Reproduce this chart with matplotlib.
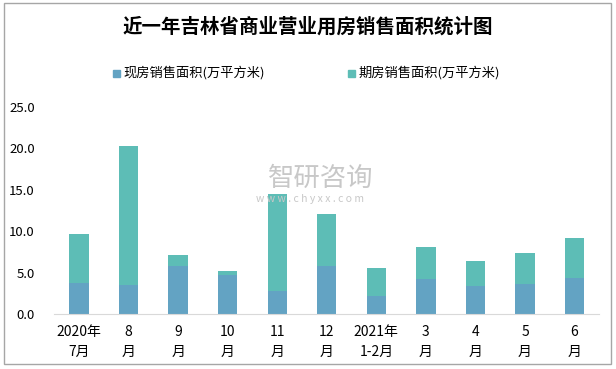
import numpy as np
import matplotlib.pyplot as plt
from matplotlib.patches import Rectangle

plt.rcParams['font.family'] = ['Noto Sans CJK SC', 'DejaVu Sans']

# Datos
meses = ['2020年\n7月', '8\n月', '9\n月', '10\n月', '11\n月', '12\n月',
         '2021年\n1-2月', '3\n月', '4\n月', '5\n月', '6\n月']
xianfang = [3.7, 3.5, 5.8, 4.7, 2.8, 5.8, 2.2, 4.2, 3.4, 3.6, 4.3]
zongji = [9.7, 20.3, 7.1, 5.2, 14.5, 12.1, 5.6, 8.1, 6.4, 7.4, 9.2]
qifang = [t - x for t, x in zip(zongji, xianfang)]

color_xian = '#63A3C3'
color_qi = '#5DBDB6'

fig = plt.figure(figsize=(6.16, 3.69), dpi=100)
ax = fig.add_axes([0.088, 0.149, 0.885, 0.561])

x = np.arange(len(meses))
ax.bar(x, xianfang, width=0.39, color=color_xian, zorder=2)
ax.bar(x, qifang, width=0.39, bottom=xianfang, color=color_qi, zorder=2)

ax.set_xlim(-0.5, len(meses) - 0.5)
ax.set_ylim(0, 25)
ax.set_yticks(np.arange(0, 26, 5))
ax.set_yticklabels([f'{v:.1f}' for v in np.arange(0, 26, 5)], fontsize=9.5)
ax.set_xticks(x)
ax.set_xticklabels(meses, fontsize=10, linespacing=1.5)
ax.tick_params(length=0, pad=8)
ax.tick_params(axis='y', pad=14)
for s in ['top', 'right', 'left']:
    ax.spines[s].set_visible(False)
ax.spines['bottom'].set_color('#d9d9d9')

# Titulo y leyenda
fig.text(0.5, 0.927, '近一年吉林省商业营业用房销售面积统计图', ha='center', va='center',
         fontsize=14, fontweight='bold')
fig.patches.append(Rectangle((113 / 616, 1 - 77 / 369), 7 / 616, 7 / 369,
                             color=color_xian, transform=fig.transFigure))
fig.text(123 / 616, 1 - 73 / 369, '现房销售面积(万平方米)', va='center', fontsize=9.5)
fig.patches.append(Rectangle((348 / 616, 1 - 77 / 369), 7 / 616, 7 / 369,
                             color=color_qi, transform=fig.transFigure))
fig.text(358 / 616, 1 - 73 / 369, '期房销售面积(万平方米)', va='center', fontsize=9.5)

# Marca de agua
fig.text(321 / 616, 1 - 178 / 369, '智研咨询', ha='center', va='center',
         fontsize=19, color='#c8c8c8', zorder=5)
fig.text(310 / 616, 1 - 199 / 369, 'w w w . c h y x x . c o m', ha='center',
         va='center', fontsize=7.5, color='#c8c8c8', zorder=5)

# Borde
fig.patches.append(Rectangle((4 / 616, 5 / 369), 607 / 616, 361 / 369,
                             fill=False, edgecolor='#a6a6a6', lw=1,
                             transform=fig.transFigure))

fig.savefig('out.png', dpi=100)
